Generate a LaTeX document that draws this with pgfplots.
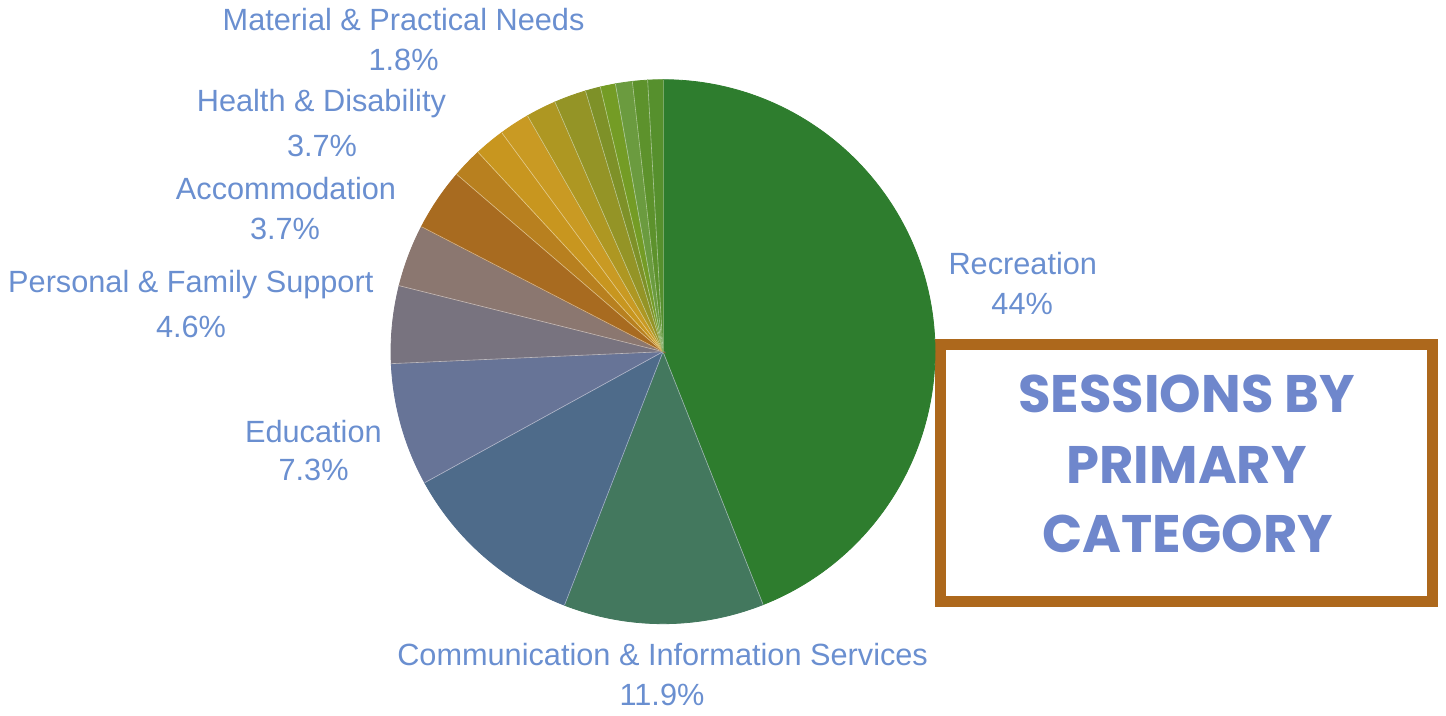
\documentclass[border=0pt]{standalone}
\usepackage{pgfplots}
\usepackage{pgfplotstable}
\pgfplotsset{compat=1.18}
\usepackage{fontspec}
\setmainfont{Liberation Sans}
\newfontfamily\titlefont{Poppins}

\definecolor{lbl}{HTML}{6A8FD0}
\definecolor{ttl}{HTML}{6F87CC}
\definecolor{boxbrown}{HTML}{AD681C}
\definecolor{s1}{HTML}{2E7D2E}
\definecolor{s2}{HTML}{43785E}
\definecolor{s3}{HTML}{4E6B8A}
\definecolor{s4}{HTML}{677497}
\definecolor{s5}{HTML}{78737F}
\definecolor{s6}{HTML}{8B7770}
\definecolor{s7}{HTML}{A86B20}
\definecolor{s8}{HTML}{B8801F}
\definecolor{s9}{HTML}{C8961F}
\definecolor{s10}{HTML}{C99A23}
\definecolor{s11}{HTML}{AE9722}
\definecolor{s12}{HTML}{949426}
\definecolor{s13}{HTML}{7E9128}
\definecolor{s14}{HTML}{749C25}
\definecolor{s15}{HTML}{6B9B3F}
\definecolor{s16}{HTML}{5D922C}
\definecolor{s17}{HTML}{56902D}

% share of sessions (%), clockwise from 12 o'clock; c = colour number
\pgfplotstableread{
id value c
recreation 44.0 1
communication 11.9 2
other1 11.1 3
education 7.3 4
personal 4.6 5
accommodation 3.7 6
health 3.7 7
material 1.8 8
other2 1.8 9
other3 1.8 10
other4 1.8 11
other5 1.9 12
other6 0.9 13
other7 0.9 14
other8 1.0 15
other9 0.9 16
other10 0.9 17
}\slices
\pgfplotstablecreatecol[create col/expr accum={\pgfmathaccuma + \thisrow{value}}{0}]{cum}{\slices}

\tikzset{lab/.style={font=\fontsize{15.35}{18}\selectfont,text=lbl,anchor=base,inner sep=0pt},
  ttlab/.style={font=\titlefont\bfseries\fontsize{26.4}{30}\selectfont,text=ttl,anchor=base,inner sep=0pt}}

\begin{document}
\begin{tikzpicture}
\begin{axis}[width=723pt,height=358pt,scale only axis,
  xmin=0,xmax=1446,ymin=0,ymax=716,hide axis,clip=false]
% whole canvas, so the page keeps the reference's frame
\path (axis cs:0,0) rectangle (axis cs:1446,716);

\addplot[scatter,only marks,mark=*,mark size=0pt,point meta=\thisrow{value},
  visualization depends on={\thisrow{value} \as \val},
  visualization depends on={\thisrow{cum} \as \cum},
  visualization depends on={\thisrow{c} \as \cnum},
  scatter/@pre marker code/.code={%
    \pgfmathsetmacro\aS{90-3.6*(\cum-\val)}%
    \pgfmathsetmacro\aE{90-3.6*\cum}%
    \pgfmathtruncatemacro\cidx{\cnum}%
    \fill[s\cidx] (0,0) -- (\aS:136pt) arc[start angle=\aS,end angle=\aE,radius=136pt] -- cycle;
    \draw[white,line width=0.3pt,opacity=0.5] (0,0) -- (\aS:136pt);
    \begin{scope}},
  scatter/@post marker code/.code={\end{scope}}]
  table[x expr=663,y expr=364.3] {\slices};

\node[lab] at (axis cs:403.6,685) {Material \& Practical Needs};
\node[lab] at (axis cs:403.6,645.3) {1.8\%};
\node[lab] at (axis cs:321.4,604.3) {Health \& Disability};
\node[lab] at (axis cs:322,559.3) {3.7\%};
\node[lab] at (axis cs:286,516) {Accommodation};
\node[lab] at (axis cs:285,476) {3.7\%};
\node[lab] at (axis cs:190.8,423.3) {Personal \& Family Support};
\node[lab] at (axis cs:191,378.7) {4.6\%};
\node[lab] at (axis cs:313.4,273.7) {Education};
\node[lab] at (axis cs:313.6,235) {7.3\%};
\node[lab] at (axis cs:1022.8,441) {Recreation};
\node[lab] at (axis cs:1022.2,401) {44\%};
\node[lab] at (axis cs:662.6,50) {Communication \& Information Services};
\node[lab] at (axis cs:662,10) {11.9\%};

\draw[boxbrown,line width=5.5pt] (axis cs:940.5,371.5) rectangle (axis cs:1432.5,114);
\node[ttlab] at (axis cs:1186.7,303) {SESSIONS BY};
\node[ttlab] at (axis cs:1186.7,232) {PRIMARY};
\node[ttlab] at (axis cs:1187.7,163) {CATEGORY};
\end{axis}
\end{tikzpicture}
\end{document}
